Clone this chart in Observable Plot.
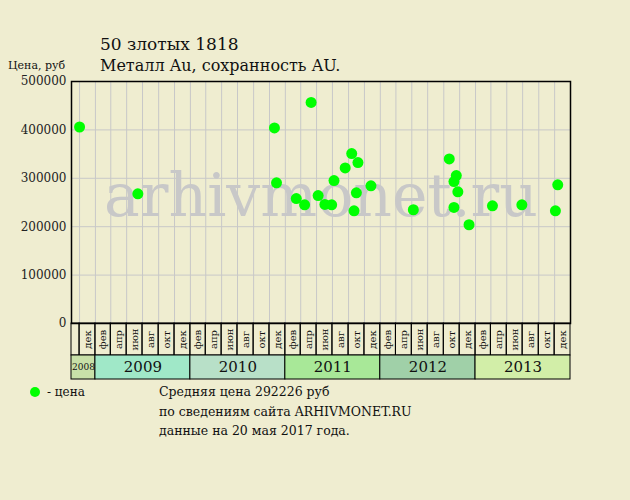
<!DOCTYPE html>
<html><head><meta charset="utf-8">
<script src="https://cdn.jsdelivr.net/npm/d3@7"></script>
<script src="https://cdn.jsdelivr.net/npm/@observablehq/plot@0.6"></script>
<style>
body{margin:0;background:#efedd0;}
#wrap{position:relative;width:630px;height:500px;font-family:"DejaVu Serif",serif;}
#wrap svg{position:absolute;left:0;top:0;}
</style></head><body><div id="wrap"></div>
<script>
// ---- data ----
const saleDates = ["2008-11-01","2009-06-13","2010-11-20","2010-11-28","2011-02-12","2011-03-16","2011-04-10","2011-05-07","2011-06-02","2011-06-28","2011-07-07","2011-08-19","2011-09-13","2011-09-22","2011-10-01","2011-10-07","2011-11-26","2012-05-07","2012-09-22","2012-10-10","2012-10-10","2012-10-19","2012-10-25","2012-12-07","2013-03-07","2013-06-28","2013-11-04","2013-11-13"];
const salePrices = [406000,268000,404000,290600,258200,245300,456700,264400,245900,245300,295300,321500,351000,232900,270000,332400,284400,235000,340100,293300,239700,305600,272000,204000,243200,245300,232900,286500];
const monthLabels = ["фев","апр","июн","авг","окт","дек"];
const years = [2008,2009,2010,2011,2012,2013];
const yearColors = ["#c8e0a8","#a0e8c8","#b8e0c8","#a8e898","#a0d0a8","#d2eea8"];
const yTicks = [0,100000,200000,300000,400000,500000];
const titleText = "50 злотых 1818";
const subtitleText = "Металл Au, сохранность AU.";
const yLabelText = "Цена, руб";
const legendText = "- цена";
const noteLines = ["Средняя цена 292226 руб","по сведениям сайта ARHIVMONET.RU","данные на 20 мая 2017 года."];
const watermark = "arhivmonet.ru";

// ---- layout ----
const W = 630, H = 500, mL = 71, mR = 60, mT = 81, mB = 177;
const plotH = H - mT - mB;
const yMax = 500000;
const perPx = yMax / plotH;
const monthRowBottom = -32 * perPx;
const yearRowBottom = -56 * perPx;

const xStart = new Date(Date.UTC(2008, 9, 1));
const xEnd = new Date(Date.UTC(2014, 0, 1));

const points = saleDates.map((d, i) => ({date: new Date(d + "T00:00:00Z"), price: salePrices[i]}));

const bounds = d3.utcMonth.every(2).range(new Date(Date.UTC(2008, 10, 1)), new Date(Date.UTC(2014, 0, 2)));
const cells = [{x1: xStart, x2: bounds[0], label: ""}];
for (let i = 0; i < bounds.length - 1; i++) {
  cells.push({x1: bounds[i], x2: bounds[i + 1], label: monthLabels[bounds[i].getUTCMonth() / 2]});
}
const yearCells = years.map((y, i) => ({
  x1: new Date(Math.max(+xStart, Date.UTC(y, 0, 1))),
  x2: new Date(Date.UTC(y + 1, 0, 1)),
  label: String(y), fill: yearColors[i], size: i === 0 ? 9 : 15
}));

const chart = Plot.plot({
  width: W, height: H,
  marginLeft: mL, marginRight: mR, marginTop: mT, marginBottom: mB,
  style: {background: "transparent", fontFamily: "DejaVu Serif, serif", fontSize: "12px", color: "#222"},
  x: {type: "utc", domain: [xStart, xEnd], axis: null},
  y: {domain: [0, yMax], ticks: yTicks, tickSize: 0, tickPadding: 5, tickFormat: d => String(d), label: null},
  marks: [
    Plot.ruleY(yTicks, {stroke: "#c8c8c8", strokeWidth: 1}),
    Plot.ruleX(bounds.slice(0, -1), {y1: 0, y2: yMax, stroke: "#c8c8c8", strokeWidth: 1}),
    Plot.text([watermark], {frameAnchor: "middle", dy: -6, text: d => d, fontSize: 60, fill: "#c8c8c8", fontFamily: "DejaVu Serif, serif"}),
    Plot.rect(cells, {x1: "x1", x2: "x2", y1: 0, y2: monthRowBottom, fill: "none", stroke: "black", strokeWidth: 1}),
    Plot.text(cells.filter(c => c.label), {x: c => new Date((+c.x1 + +c.x2) / 2), y: monthRowBottom / 2, text: "label", rotate: -90, fontSize: 10, fill: "#111"}),
    Plot.rect(yearCells, {x1: "x1", x2: "x2", y1: monthRowBottom, y2: yearRowBottom, fill: "fill", stroke: "black", strokeWidth: 1}),
    Plot.text(yearCells, {x: c => new Date((+c.x1 + +c.x2) / 2), y: (monthRowBottom + yearRowBottom) / 2, text: "label", fontSize: "size", fill: "#111"}),
    Plot.frame({stroke: "black", strokeWidth: 1.5}),
    Plot.dot(points, {x: "date", y: "price", r: 5.5, fill: "#00ff00"})
  ]
});
document.getElementById("wrap").appendChild(chart);

// ---- texts ----
const svg = d3.select("#wrap").append("svg").attr("width", W).attr("height", H)
  .style("font-family", "DejaVu Serif, serif").style("pointer-events", "none");
svg.append("text").attr("x", 100).attr("y", 50).attr("font-size", 17).attr("fill", "#111").text(titleText);
svg.append("text").attr("x", 100).attr("y", 71).attr("font-size", 16).attr("fill", "#111").text(subtitleText);
svg.append("text").attr("x", 8).attr("y", 69).attr("font-size", 11).attr("fill", "#111").text(yLabelText);
svg.append("circle").attr("cx", 35).attr("cy", 392).attr("r", 5).attr("fill", "#00ff00");
svg.append("text").attr("x", 47).attr("y", 396).attr("font-size", 12).attr("fill", "#111").text(legendText);
noteLines.forEach((t, i) => svg.append("text").attr("x", 159).attr("y", 396 + i * 19.5).attr("font-size", 12.5).attr("fill", "#111").text(t));
</script></body></html>
